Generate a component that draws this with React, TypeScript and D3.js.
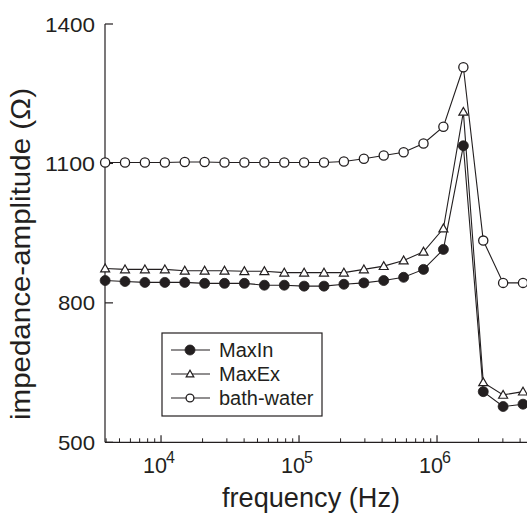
import React from "react";
import * as d3 from "d3";

const frequencies = [3936, 5483, 7640, 10660, 14860, 20700, 28840, 40180, 56100, 78200, 108900, 151700, 211400, 295100, 411000, 572800, 798000, 1112000, 1552000, 2163000, 3013000, 4198000];
const maxIn = [848, 846, 844, 844, 844, 842, 842, 842, 838, 838, 836, 836, 840, 843, 848, 855, 872, 915, 1138, 609, 577, 582];
const maxEx = [874, 872, 872, 872, 869, 869, 869, 868, 868, 865, 865, 865, 865, 872, 879, 891, 910, 960, 1211, 629, 602, 609];
const bathWater = [1102, 1102, 1102, 1102, 1103, 1103, 1102, 1102, 1102, 1102, 1102, 1102, 1104, 1110, 1117, 1124, 1143, 1179, 1307, 934, 843, 843];
const seriesNames = ["MaxIn", "MaxEx", "bath-water"];
const yTicks = [500, 800, 1100, 1400];
const xDecades = [4, 5, 6];

const INK = "#231f20";
const FONT = "'Liberation Sans', Arial, Helvetica, sans-serif";

function Marker({ kind, x, y, s = 1 }: { kind: string; x: number; y: number; s?: number }) {
  if (kind === "MaxIn") return <circle cx={x} cy={y} r={5 * s} fill={INK} stroke={INK} strokeWidth={0.8} />;
  if (kind === "MaxEx") {
    const w = 4.5 * s, h = 7.5 * s;
    const p = `${x - w},${y + h * 0.45} ${x + w},${y + h * 0.45} ${x},${y - h * 0.6}`;
    return <polygon points={p} fill="white" stroke={INK} strokeWidth={1.2} />;
  }
  return <circle cx={x} cy={y} r={4.6 * s} fill="white" stroke={INK} strokeWidth={1.3} />;
}

export default function App() {
  const W = 527, H = 515;
  const x0 = 105, yBottom = 442.3, yTop = 24;
  const x = d3.scaleLog().domain([Math.pow(10, 3.594), Math.pow(10, 6.652)]).range([x0, 527]);
  const y = d3.scaleLinear().domain([500, 1400]).range([yBottom, yTop]);
  const series = [
    { name: seriesNames[2], vals: bathWater },
    { name: seriesNames[1], vals: maxEx },
    { name: seriesNames[0], vals: maxIn },
  ];
  const line = d3.line<number>().x((_, i) => x(frequencies[i])).y((v) => y(v));

  const minor: number[] = [];
  for (let e = 3; e <= 6; e++) for (let m = 2; m <= 9; m++) {
    const f = m * Math.pow(10, e);
    if (x(f) >= x0 + 1 && x(f) <= W) minor.push(f);
  }

  const legendRows = [
    { name: "MaxIn", cy: 350 },
    { name: "MaxEx", cy: 374 },
    { name: "bath-water", cy: 398 },
  ];

  return (
    <svg width={W} height={H} style={{ position: "absolute", left: 0, top: 0, background: "white" }} fontFamily={FONT}>
      {/* axes */}
      <line x1={x0} y1={yTop} x2={x0} y2={yBottom} stroke={INK} strokeWidth={1.2} />
      <line x1={x0} y1={yBottom} x2={W} y2={yBottom} stroke={INK} strokeWidth={1.2} />
      {yTicks.map((t) => (
        <g key={t}>
          <line x1={x0} x2={x0 + 8} y1={y(t)} y2={y(t)} stroke={INK} strokeWidth={1.2} />
          <text x={95} y={y(t) + 7.5} textAnchor="end" fontSize={21} fill={INK}
            textLength={t >= 1000 ? 50 : 37} lengthAdjust="spacingAndGlyphs">{t}</text>
        </g>
      ))}
      {minor.map((f) => (
        <line key={f} x1={x(f)} x2={x(f)} y1={yBottom} y2={yBottom - 4} stroke={INK} strokeWidth={1} />
      ))}
      {xDecades.map((e) => {
        const px = x(Math.pow(10, e));
        return (
          <g key={e}>
            <line x1={px} x2={px} y1={yBottom} y2={yBottom - 7} stroke={INK} strokeWidth={1.2} />
            <text x={px - 18} y={473} fontSize={22} fill={INK} textLength={24} lengthAdjust="spacingAndGlyphs">10</text>
            <text x={px + 5} y={463} fontSize={16} fill={INK}>{e}</text>
          </g>
        );
      })}
      <text x={311} y={507} textAnchor="middle" fontSize={27} fill={INK} textLength={178} lengthAdjust="spacingAndGlyphs">frequency (Hz)</text>
      <text transform="translate(30,254) rotate(-90)" textAnchor="middle" fontSize={28} fill={INK} textLength={332} lengthAdjust="spacingAndGlyphs">impedance-amplitude (Ω)</text>

      {/* data */}
      {series.map((s) => (
        <path key={s.name} d={line(s.vals) || ""} fill="none" stroke={INK} strokeWidth={1.1} />
      ))}
      {series.map((s) => (
        <g key={s.name + "m"}>
          {s.vals.map((v, i) => (
            <Marker key={i} kind={s.name} x={x(frequencies[i])} y={y(v)} />
          ))}
        </g>
      ))}

      {/* legend */}
      <rect x={162} y={333} width={160} height={83} fill="white" stroke={INK} strokeWidth={1.2} />
      {legendRows.map((r) => (
        <g key={r.name}>
          <line x1={171} x2={210} y1={r.cy} y2={r.cy} stroke={INK} strokeWidth={1.1} />
          <Marker kind={r.name} x={190} y={r.cy} s={r.name === "MaxIn" ? 1 : 0.85} />
          <text x={219} y={r.cy + 7} fontSize={20} fill={INK}>{r.name}</text>
        </g>
      ))}
    </svg>
  );
}
